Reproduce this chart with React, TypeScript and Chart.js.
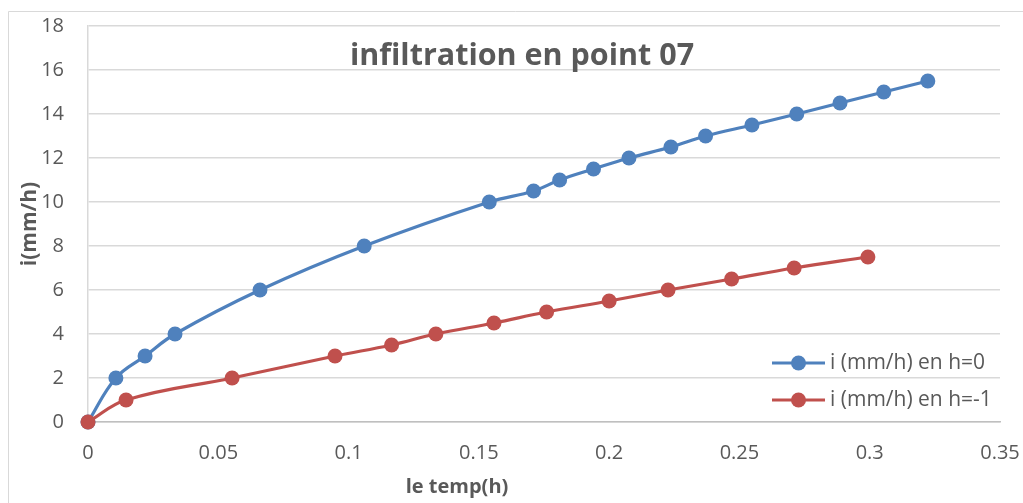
import React, { useEffect, useRef } from "react";
import { Chart, registerables } from "chart.js";

Chart.register(...registerables);

const chartTitle = "infiltration en point 07";
const xTitle = "le temp(h)";
const yTitle = "i(mm/h)";
const seriesNames = ["i (mm/h) en h=0", "i (mm/h) en h=-1"];

const timeH0 = [0, 0.0107, 0.0219, 0.0334, 0.066, 0.106, 0.154, 0.171, 0.181, 0.194, 0.2076, 0.2237, 0.237, 0.2548, 0.272, 0.2886, 0.3054, 0.3223];
const infH0 = [0, 2, 3, 4, 6, 8, 10, 10.5, 11, 11.5, 12, 12.5, 13, 13.5, 14, 14.5, 15, 15.5];

const timeH1 = [0, 0.0146, 0.0553, 0.0948, 0.1165, 0.1335, 0.1558, 0.176, 0.2, 0.2226, 0.247, 0.271, 0.2993];
const infH1 = [0, 1, 2, 3, 3.5, 4, 4.5, 5, 5.5, 6, 6.5, 7, 7.5];

const xMin = 0;
const xMax = 0.35;
const xStep = 0.05;
const yMin = 0;
const yMax = 18;
const yStep = 2;

const BLUE = "#4f81bd";
const RED = "#c0504d";
const TEXT = "#595959";
const GRID = "#d9d9d9";
const FONT = "'Open Sans', sans-serif";

export default function App() {
  const ref = useRef<HTMLCanvasElement | null>(null);

  useEffect(() => {
    if (!ref.current) return;
    document.body.style.overflow = "hidden";

    const decor = {
      id: "decor",
      beforeDraw(chart: any) {
        const ctx = chart.ctx;
        ctx.save();
        ctx.fillStyle = "#ffffff";
        ctx.fillRect(0, 0, chart.width, chart.height);
        ctx.strokeStyle = GRID;
        ctx.lineWidth = 1;
        ctx.beginPath();
        ctx.moveTo(8.5, chart.height);
        ctx.lineTo(8.5, 11.5);
        ctx.lineTo(chart.width, 11.5);
        ctx.stroke();
        ctx.restore();
      },
      afterDraw(chart: any) {
        const ctx = chart.ctx;
        const area = chart.chartArea;
        ctx.save();
        // title
        ctx.fillStyle = TEXT;
        ctx.font = `bold 30.5px ${FONT}`;
        ctx.textAlign = "center";
        ctx.textBaseline = "alphabetic";
        ctx.fillText(chartTitle, 522, 65);
        // x title
        ctx.font = `bold 20px ${FONT}`;
        ctx.textBaseline = "middle";
        ctx.fillText(xTitle, 457, 487);
        // y title
        ctx.save();
        ctx.translate(30, (area.top + area.bottom) / 2);
        ctx.rotate(-Math.PI / 2);
        ctx.font = `bold 21px ${FONT}`;
        ctx.fillText(yTitle, 0, 0);
        ctx.restore();
        // legend
        const colors = [BLUE, RED];
        const rows = [363, 400];
        seriesNames.forEach((name, i) => {
          const y = rows[i];
          ctx.strokeStyle = colors[i];
          ctx.lineWidth = 3;
          ctx.beginPath();
          ctx.moveTo(772, y);
          ctx.lineTo(825, y);
          ctx.stroke();
          ctx.fillStyle = colors[i];
          ctx.beginPath();
          ctx.arc(798.5, y, 7.5, 0, Math.PI * 2);
          ctx.fill();
          ctx.fillStyle = TEXT;
          ctx.font = `21px ${FONT}`;
          ctx.textAlign = "left";
          ctx.textBaseline = "middle";
          ctx.fillText(name, 830, y);
        });
        ctx.restore();
      },
    };

    const toPoints = (xs: number[], ys: number[]) => xs.map((x, i) => ({ x, y: ys[i] }));

    const chart = new Chart(ref.current, {
      type: "line",
      data: {
        datasets: [
          {
            label: seriesNames[0],
            data: toPoints(timeH0, infH0),
            borderColor: BLUE,
            backgroundColor: BLUE,
            borderWidth: 3.2,
            pointRadius: 7.5,
            pointBorderWidth: 0,
            pointBackgroundColor: BLUE,
            tension: 0.4,
            clip: false,
            order: 1,
          },
          {
            label: seriesNames[1],
            data: toPoints(timeH1, infH1),
            borderColor: RED,
            backgroundColor: RED,
            borderWidth: 3.2,
            pointRadius: 7.5,
            pointBorderWidth: 0,
            pointBackgroundColor: RED,
            tension: 0.4,
            clip: false,
            order: 0,
          },
        ],
      },
      options: {
        responsive: false,
        animation: false,
        layout: { padding: { left: 8, top: 26, right: 23, bottom: 0 } },
        plugins: {
          legend: { display: false },
          title: { display: false },
          tooltip: { enabled: false },
        },
        scales: {
          x: {
            type: "linear",
            min: xMin,
            max: xMax,
            grid: { display: false, drawTicks: false },
            border: { display: true, color: "#bfbfbf", width: 1.5 },
            ticks: {
              stepSize: xStep,
              padding: 19,
              color: TEXT,
              font: { family: FONT, size: 20 },
              maxRotation: 0,
              callback: (v: any) => String(Number(Number(v).toFixed(2))),
            },
            afterFit: (scale: any) => {
              scale.height = 81;
              scale.paddingLeft = 0;
              scale.paddingRight = 0;
            },
          },
          y: {
            type: "linear",
            min: yMin,
            max: yMax,
            grid: { color: GRID, lineWidth: 1.5, drawTicks: false },
            border: { display: true, color: GRID, width: 1.5 },
            ticks: {
              stepSize: yStep,
              padding: 24,
              color: TEXT,
              font: { family: FONT, size: 20 },
            },
            afterFit: (scale: any) => {
              scale.width = 80;
              scale.paddingTop = 0;
              scale.paddingBottom = 0;
            },
          },
        },
      },
      plugins: [decor],
    });

    return () => chart.destroy();
  }, []);

  return (
    <div style={{ position: "fixed", left: 0, top: 0, width: 1023, height: 503 }}>
      <canvas ref={ref} width={1023} height={503} style={{ display: "block" }} />
    </div>
  );
}
